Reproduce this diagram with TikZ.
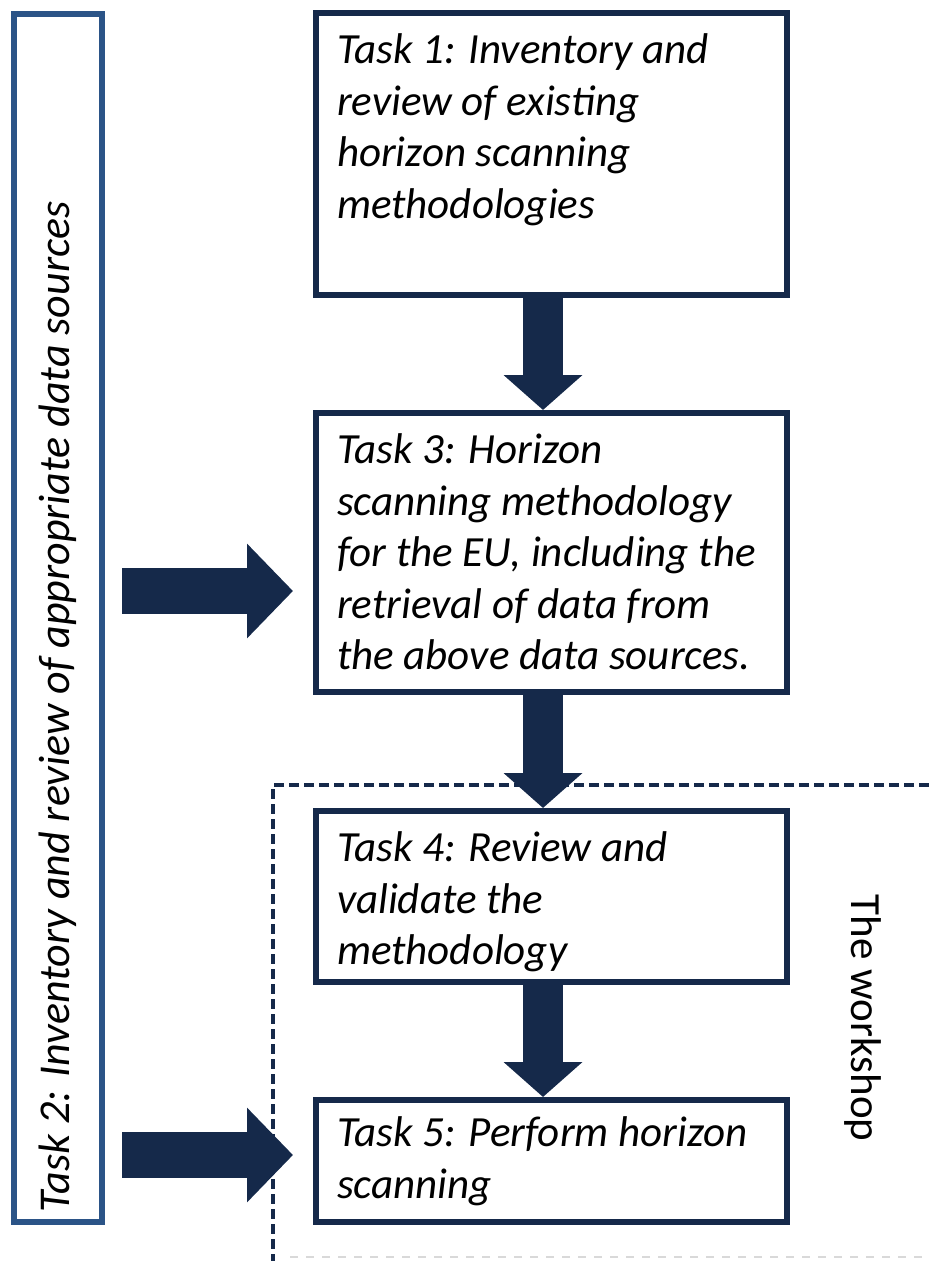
\documentclass[tikz,border=0pt]{standalone}
\usepackage{fontspec}
\setmainfont{Carlito}
\usetikzlibrary{arrows.meta}

\definecolor{navy}{HTML}{15294A}
\definecolor{sourceblue}{HTML}{2B5487}
\newcommand{\taskpar}[2]{\parbox[t][#1][t]{429pt}{#2}}

\begin{document}
\begin{tikzpicture}[x=1pt,y=-1pt,
    taskbox/.style={draw=navy, line width=6pt, anchor=north west, inner sep=21pt,
      minimum width=471pt, font=\fontsize{43}{51.5}\selectfont\itshape},
    flowarrow/.style={navy, line width=40pt, -{Triangle[width=77pt,length=35pt]}},
    sidearrow/.style={navy, line width=46pt, -{Triangle[width=92pt,length=46pt]}}]

  \useasboundingbox (0,0) rectangle (929,1261);

  % the workshop area
  \draw[navy, line width=3.5pt, dash pattern=on 10pt off 5pt] (929,785) -- (273,785) -- (273,1261);
  \draw[gray!30, line width=2pt, dash pattern=on 8pt off 8pt] (290,1257) -- (929,1257);
  \node[rotate=-90, font=\fontsize{43}{50}\selectfont] (ws) at (863,1018) {The workshop};

  % data sources
  \node[draw=sourceblue, line width=6.5pt, minimum width=88pt, minimum height=1208pt, inner sep=0pt] (t2) at (58,618) {};
  \node[rotate=90, anchor=west, inner sep=0pt, font=\fontsize{44}{50}\selectfont\itshape]
    (t2text) at ([yshift=13pt]t2.south) {Task 2: Inventory and review of appropriate data sources};

  % tasks
  \node[taskbox] (t1) at (313,10) {\taskpar{240pt}{Task 1: Inventory and\\ review of existing\\ horizon scanning\\ methodologies}};
  \node[taskbox] (t3) at (313,410) {\taskpar{237pt}{Task 3: Horizon\\ scanning methodology\\ for the EU, including the\\ retrieval of data from\\ the above data sources.}};
  \node[taskbox] (t4) at (313,808) {\taskpar{129pt}{Task 4: Review and\\ validate the\\ methodology}};
  \node[taskbox] (t5) at (313,1097) {\taskpar{80pt}{\vspace*{-4pt}Task 5: Perform horizon\\ scanning}};

  % arrows
  \coordinate (mid) at (543,0);
  \coordinate (in3) at (293,591);
  \coordinate (in5) at (293,1155);

  \draw[flowarrow] (t1.south -| mid) -- (t3.north -| mid);
  \draw[flowarrow] (t3.south -| mid) -- (t4.north -| mid);
  \draw[flowarrow] (t4.south -| mid) -- (t5.north -| mid);
  \draw[sidearrow, shorten <=17pt] (t2.east |- in3) -- (in3);
  \draw[sidearrow, shorten <=17pt] (t2.east |- in5) -- (in5);

\end{tikzpicture}
\end{document}
